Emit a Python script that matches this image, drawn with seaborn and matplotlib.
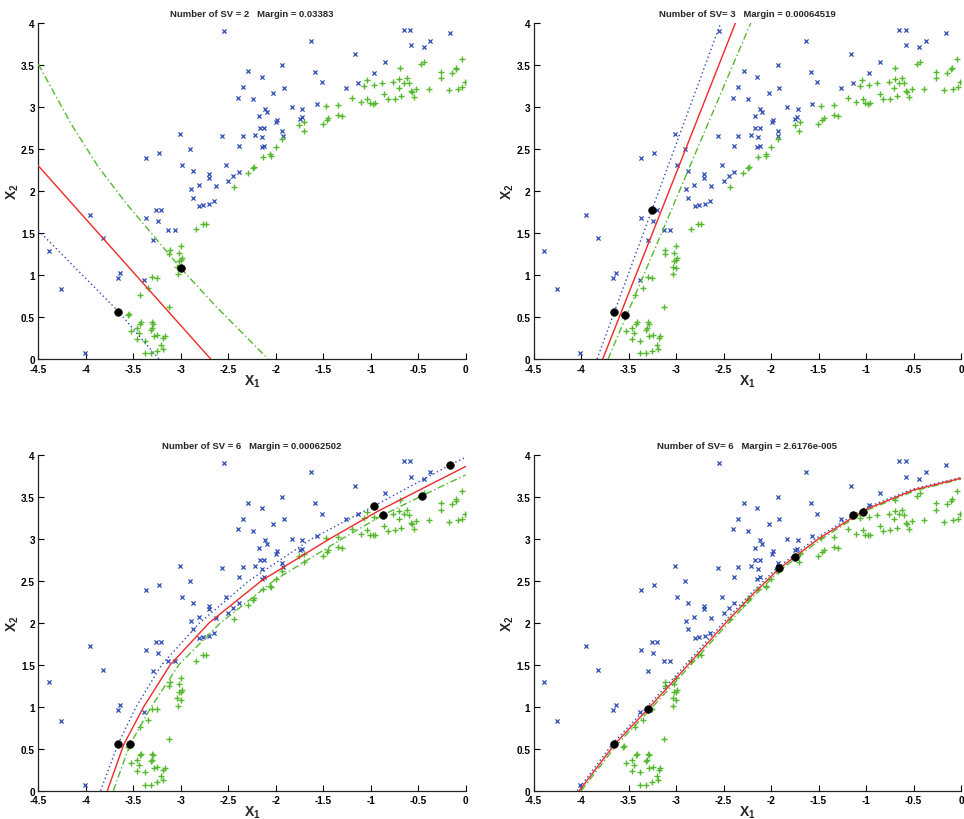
import matplotlib
matplotlib.use("Agg")
import matplotlib.pyplot as plt
import pandas as pd
import seaborn as sns

sns.set_theme(style="white")
plt.rcParams["font.family"] = ["Liberation Sans", "DejaVu Sans"]
plt.rcParams["mathtext.fontset"] = "custom"
plt.rcParams["mathtext.rm"] = "Liberation Sans"
plt.rcParams["mathtext.bf"] = "Liberation Sans:bold"
plt.rcParams["axes.unicode_minus"] = False

# ---- class A samples (blue x) ----
blue_x1 = [-2.545, -0.652, -0.583, -0.164, -1.634, -0.373, -0.575, -0.443, -1.163, -0.854,
           -1.931, -2.287, -1.585, -0.970, -2.148, -1.515, -1.137, -2.345, -1.917, -1.262,
           -2.401, -2.240, -2.025, -1.570, -1.832, -2.117, -1.721, -2.097, -2.175, -1.728,
           -1.746, -1.984, -1.994, -2.168, -2.122, -1.929, -1.924, -3.008, -2.562, -2.350,
           -2.217, -2.143, -2.122, -2.145, -2.390, -2.906, -3.370, -3.233, -2.992, -2.522,
           -2.876, -2.702, -2.702, -2.387, -2.445, -2.498, -2.631, -2.894, -2.808, -2.875,
           -2.647, -2.700, -2.761, -2.805, -3.257, -3.205, -3.952, -3.366, -3.243, -3.131,
           -3.062, -3.823, -3.296, -4.391, -3.637, -3.665, -3.384, -4.258, -4.009, -3.660]
blue_x2 = [3.90, 3.92, 3.92, 3.88, 3.79, 3.79, 3.74, 3.71, 3.63, 3.54,
           3.50, 3.43, 3.42, 3.40, 3.36, 3.30, 3.29, 3.24, 3.23, 3.23,
           3.11, 3.09, 3.17, 3.03, 3.00, 2.98, 2.98, 2.94, 2.89, 2.88,
           2.86, 2.85, 2.82, 2.75, 2.75, 2.71, 2.66, 2.68, 2.65, 2.66,
           2.67, 2.64, 2.54, 2.52, 2.54, 2.50, 2.39, 2.45, 2.31, 2.31,
           2.24, 2.20, 2.16, 2.23, 2.18, 2.12, 2.06, 2.02, 2.07, 1.92,
           1.88, 1.84, 1.83, 1.82, 1.77, 1.77, 1.72, 1.68, 1.64, 1.54,
           1.54, 1.44, 1.42, 1.29, 1.02, 0.96, 0.94, 0.83, 0.07, 0.56]

# ---- class B samples (green +) ----
green_x1 = [-0.040, -0.437, -0.468, -0.693, -0.098, -0.105, -0.145, -0.264, -0.264, -0.012,
            -0.037, -0.086, -0.177, -0.387, -1.040, -1.068, -0.966, -0.882, -0.763, -0.700,
            -0.622, -0.650, -0.601, -0.703, -0.577, -0.570, -0.521, -0.858, -0.822, -0.745,
            -0.548, -0.679, -1.195, -1.106, -1.037, -1.008, -0.977, -0.959, -1.342, -1.475,
            -1.342, -1.300, -1.447, -1.461, -1.506, -1.700, -1.753, -1.703, -1.932, -1.998,
            -2.058, -2.050, -2.135, -2.229, -2.243, -2.296, -2.437, -2.770, -2.738, -2.840,
            -2.998, -3.113, -3.120, -3.019, -2.990, -3.001, -3.019, -3.037, -2.998, -3.030,
            -3.300, -3.254, -3.345, -3.433, -3.127, -3.545, -3.556, -3.416, -3.427, -3.300,
            -3.290, -3.306, -3.317, -3.461, -3.527, -3.440, -3.247, -3.282, -3.169, -3.184,
            -3.461, -3.380, -3.205, -3.254, -3.187, -3.380, -3.317]
green_x2 = [3.57, 3.54, 3.51, 3.46, 3.47, 3.45, 3.41, 3.42, 3.34, 3.30,
            3.24, 3.22, 3.20, 3.22, 3.32, 3.25, 3.26, 3.28, 3.30, 3.33,
            3.34, 3.29, 3.28, 3.23, 3.19, 3.18, 3.21, 3.15, 3.09, 3.10,
            3.12, 3.13, 3.11, 3.06, 3.10, 3.05, 3.04, 3.05, 3.02, 3.01,
            2.90, 2.89, 2.87, 2.84, 2.80, 2.82, 2.79, 2.72, 2.615, 2.52,
            2.44, 2.42, 2.40, 2.29, 2.27, 2.21, 2.05, 1.61, 1.61, 1.55,
            1.345, 1.30, 1.25, 1.265, 1.20, 1.18, 1.17, 1.10, 1.08, 1.01,
            0.976, 0.968, 0.84, 0.76, 0.62, 0.536, 0.52, 0.437, 0.42, 0.436,
            0.42, 0.37, 0.35, 0.365, 0.333, 0.31, 0.286, 0.27, 0.27, 0.246,
            0.234, 0.218, 0.17, 0.10, 0.123, 0.067, 0.067]

# ---- panel titles ----
titles = ["Number of SV = 2   Margin = 0.03383",
          "Number of SV= 3   Margin = 0.00064519",
          "Number of SV = 6   Margin = 0.00062502",
          "Number of SV= 6   Margin = 2.6176e-005"]

# ---- support vectors per panel ----
sv_x1 = [[-3.660, -2.998],
         [-3.654, -3.542, -3.254],
         [-3.658, -3.535, -0.965, -0.874, -0.463, -0.162],
         [-3.654, -3.300, -1.920, -1.752, -1.137, -1.036]]
sv_x2 = [[0.556, 1.080],
         [0.556, 0.528, 1.774],
         [0.556, 0.552, 3.390, 3.280, 3.510, 3.880],
         [0.556, 0.972, 2.655, 2.786, 3.286, 3.320]]

# ---- decision boundary (red) and margins (blue / green) per panel ----
red_x1 = [[-4.5, -2.685],
          [-3.773, -2.376],
          [-3.773, -3.60, -3.39, -3.11, -2.70, -2.15, -1.43, -0.92, 0.0],
          [-4.02, -3.65, -3.30, -3.00, -2.50, -2.20, -1.92, -1.50, -1.00, -0.50, 0.0]]
red_x2 = [[2.30, 0.0],
          [0.0, 4.0],
          [0.0, 0.55, 1.0, 1.5, 2.0, 2.5, 3.0, 3.33, 3.86],
          [0.0, 0.55, 0.97, 1.34, 1.97, 2.33, 2.64, 3.0, 3.35, 3.58, 3.72]]

blue_m_x1 = [[-4.5, -3.66, -3.23],
             [-3.833, -2.531],
             [-3.844, -3.66, -3.47, -3.20, -2.80, -2.28, -1.62, -0.965, -0.162, 0.0],
             [-4.04, -3.67, -3.32, -3.02, -2.52, -2.22, -1.94, -1.52, -1.02, -0.51, 0.0]]
blue_m_x2 = [[1.53, 0.57, 0.0],
             [0.0, 4.0],
             [0.0, 0.556, 1.0, 1.5, 2.0, 2.5, 3.0, 3.39, 3.88, 3.97],
             [0.0, 0.56, 0.98, 1.35, 1.98, 2.34, 2.65, 3.01, 3.36, 3.59, 3.73]]

green_m_x1 = [[-4.5, -4.15, -3.87, -3.58, -3.00, -2.62, -2.08],
              [-3.717, -2.215],
              [-3.71, -3.535, -3.31, -3.02, -2.58, -2.02, -1.30, -0.874, -0.463, 0.0],
              [-4.00, -3.63, -3.28, -2.98, -2.48, -2.18, -1.90, -1.48, -0.99, -0.49, 0.0]]
green_m_x2 = [[3.51, 2.79, 2.29, 1.86, 1.08, 0.615, 0.0],
              [0.0, 4.0],
              [0.0, 0.55, 1.0, 1.5, 2.0, 2.5, 3.0, 3.28, 3.51, 3.76],
              [0.0, 0.54, 0.96, 1.33, 1.96, 2.32, 2.63, 2.99, 3.34, 3.57, 3.71]]

# ---- axes ticks ----
x_ticks = [-4.5, -4.0, -3.5, -3.0, -2.5, -2.0, -1.5, -1.0, -0.5, 0.0]
x_tick_labels = ["-4.5", "-4", "-3.5", "-3", "-2.5", "-2", "-1.5", "-1", "-0.5", "0"]
y_ticks = [0.0, 0.5, 1.0, 1.5, 2.0, 2.5, 3.0, 3.5, 4.0]
y_tick_labels = ["0", "0.5", "1", "1.5", "2", "2.5", "3", "3.5", "4"]

BLUE = "#2e4cb4"
GREEN = "#56b82f"
RED = "#f02828"

W, H = 964, 820
fig = plt.figure(figsize=(W / 100, H / 100), dpi=100)

# axes boxes in pixels: left, top, right, bottom
boxes = [(38.3, 24, 465.7, 360), (533.7, 24, 961.1, 360),
         (38.3, 455.7, 465.7, 791.7), (533.7, 455.7, 961.1, 791.7)]

for i, (l, t, r, b) in enumerate(boxes):
    ax = fig.add_axes([l / W, 1 - b / H, (r - l) / W, (b - t) / H])

    sns.scatterplot(x=blue_x1, y=blue_x2, marker="x", color=BLUE, s=9,
                    linewidth=0.9, ax=ax, zorder=2)
    sns.scatterplot(x=green_x1, y=green_x2, marker="+", color=GREEN, s=20,
                    linewidth=1.0, ax=ax, zorder=2)

    sns.lineplot(x=blue_m_x1[i], y=blue_m_x2[i], sort=False, estimator=None,
                 color=BLUE, linestyle=(0, (1, 2)), linewidth=1.0, ax=ax, zorder=3)
    sns.lineplot(x=green_m_x1[i], y=green_m_x2[i], sort=False, estimator=None,
                 color=GREEN, linestyle=(0, (5, 2, 1, 2)), linewidth=1.0, ax=ax, zorder=3)
    sns.lineplot(x=red_x1[i], y=red_x2[i], sort=False, estimator=None,
                 color=RED, linestyle="-", linewidth=1.0, ax=ax, zorder=4)

    sns.scatterplot(x=sv_x1[i], y=sv_x2[i], marker="o", color="black", s=30,
                    edgecolor="black", linewidth=0.5, ax=ax, zorder=5)

    ax.set_xlim(-4.5, 0)
    ax.set_ylim(0, 4)
    ax.set_xticks(x_ticks)
    ax.set_xticklabels(x_tick_labels)
    ax.set_yticks(y_ticks)
    ax.set_yticklabels(y_tick_labels)
    ax.tick_params(direction="in", length=4, width=0.8, labelsize=7.2,
                   colors="black", left=True, bottom=True)
    ax.tick_params(axis="x", pad=3.4)
    ax.tick_params(axis="y", pad=2.4)
    for lab in ax.get_xticklabels() + ax.get_yticklabels():
        lab.set_fontweight("bold")
    sns.despine(ax=ax)
    for side in ("left", "bottom"):
        ax.spines[side].set_color("#222222")
        ax.spines[side].set_linewidth(0.9)

    ax.set_xlabel(r"$\mathbf{X_1}$", fontsize=10, labelpad=-1)
    ax.set_ylabel(r"$\mathbf{X_2}$", fontsize=10, labelpad=0)
    ax.set_title(titles[i], fontsize=6.8, fontweight="bold", pad=5)

fig.savefig("out.png", dpi=100)
